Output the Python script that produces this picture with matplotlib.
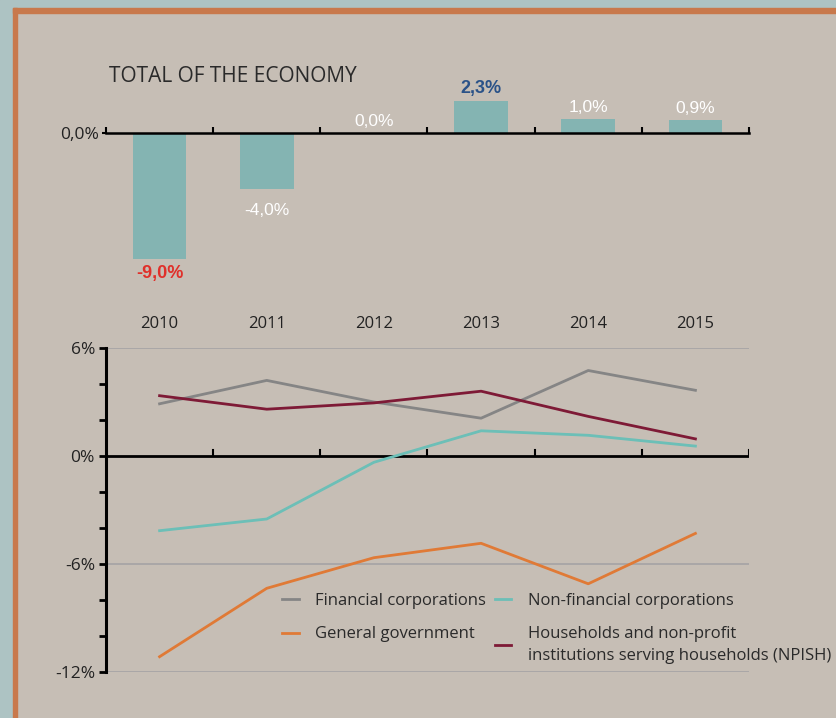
import matplotlib
matplotlib.use('Agg')
import matplotlib.pyplot as plt
from matplotlib.patches import Rectangle
import matplotlib.transforms as mtransforms

# Data
years = ['2010', '2011', '2012', '2013', '2014', '2015']
total_economy = [-9.0, -4.0, 0.0, 2.3, 1.0, 0.9]
total_labels = ['-9,0%', '-4,0%', '0,0%', '2,3%', '1,0%', '0,9%']

financial = [2.9, 4.2, 3.0, 2.1, 4.75, 3.65]
non_financial = [-4.15, -3.5, -0.35, 1.4, 1.15, 0.55]
general_gov = [-11.15, -7.35, -5.65, -4.85, -7.1, -4.3]
households = [3.35, 2.6, 2.95, 3.6, 2.2, 0.95]

series_names = ['Financial corporations', 'General government',
                'Non-financial corporations',
                'Households and non-profit\ninstitutions serving households (NPISH)']

W, H = 837, 718
BG = '#c6beb5'
OUTER = '#adc3c3'
BORDER = '#c8794c'
BAR = '#84b4b2'

plt.rcParams['font.family'] = ['Open Sans', 'DejaVu Sans']

fig = plt.figure(figsize=(W / 100, H / 100), dpi=100)
fig.patch.set_facecolor(BG)

def px(x0, y0, x1, y1):
    # pixel box (top-left origin) -> figure fraction rect
    return [x0 / W, 1 - y1 / H, (x1 - x0) / W, (y1 - y0) / H]

# outer frame
fig.patches.append(Rectangle((0, 0), 13 / W, 1, transform=fig.transFigure, color=OUTER, zorder=0))
fig.patches.append(Rectangle((0, 1 - 8 / H), 1, 8 / H, transform=fig.transFigure, color=OUTER, zorder=0))
fig.patches.append(Rectangle((13 / W, 1 - 13 / H), 1, 5 / H, transform=fig.transFigure, color=BORDER, zorder=1))
fig.patches.append(Rectangle((13 / W, 0), 4.5 / W, 1 - 8 / H, transform=fig.transFigure, color=BORDER, zorder=1))

x = list(range(len(years)))

# ---- bar chart: total of the economy ----
ax1 = fig.add_axes(px(106, 90, 749, 270))
ax1.set_facecolor('none')
ax1.bar(x, total_economy, width=0.5, color=BAR, zorder=2)
ax1.set_xlim(-0.5, 5.5)
ax1.set_ylim(-(270 - 133) / 14, (133 - 90) / 14)
for s in ['top', 'right', 'left']:
    ax1.spines[s].set_visible(False)
ax1.spines['bottom'].set_position(('data', 0))
ax1.spines['bottom'].set_linewidth(1.8)
ax1.spines['bottom'].set_zorder(3)
ax1.set_xticks([i - 0.5 for i in range(7)])
ax1.set_xticklabels([])
ax1.tick_params(axis='x', direction='in', length=4, width=1.5)
ax1.set_yticks([0])
ax1.set_yticklabels(['0,0%'], fontsize=12.5, color='#222222')
ax1.tick_params(axis='y', length=3, width=1.5, pad=2)

label_colors = ['#e0302a', 'white', 'white', '#2a5288', 'white', 'white']
label_weights = ['bold', 'normal', 'normal', 'bold', 'normal', 'normal']
for i, (v, lab) in enumerate(zip(total_economy, total_labels)):
    if v < 0:
        off = -6 if v < -5 else -14
        va = 'top'
    else:
        off = 4
        va = 'bottom'
    ax1.annotate(lab, (i, v), xytext=(0, off), textcoords='offset pixels',
                 ha='center', va=va, fontsize=12.5 if label_weights[i] == 'normal' else 13,
                 color=label_colors[i], fontweight=label_weights[i],
                 family=['Liberation Sans', 'DejaVu Sans'])

fig.text(109 / W, 1 - 77 / H, 'TOTAL OF THE ECONOMY', fontsize=15,
         color='#2a2a2a', va='center', ha='left')

# year labels
trans = mtransforms.blended_transform_factory(ax1.transData, fig.transFigure)
for i, yr in enumerate(years):
    ax1.text(i, 1 - 324 / H, yr, transform=trans, ha='center', va='center',
             fontsize=12, color='#222222')

# ---- line chart: by institutional sector ----
ax2 = fig.add_axes(px(106, 348, 749, 672))
ax2.set_facecolor('none')
ax2.set_xlim(-0.5, 5.5)
ax2.set_ylim(-12, 6)
for yv in [6, -6, -12]:
    ax2.axhline(yv, color='#a7a5a6', lw=1.3, zorder=1)
ax2.axhline(0, color='black', lw=2, zorder=2)
for i in range(1, 7):
    ax2.plot([i - 0.5, i - 0.5], [0, 0.35], color='black', lw=1.5, zorder=2)

l_fin, = ax2.plot(x, financial, color='#858585', lw=2, zorder=3)
l_nonfin, = ax2.plot(x, non_financial, color='#6cbfb7', lw=2, zorder=3)
l_gov, = ax2.plot(x, general_gov, color='#e07a36', lw=2, zorder=3)
l_hh, = ax2.plot(x, households, color='#7e1a36', lw=2, zorder=3)

for s in ['top', 'right', 'bottom']:
    ax2.spines[s].set_visible(False)
ax2.spines['left'].set_linewidth(2.2)
ax2.set_xticks([])
ax2.set_yticks(range(-12, 7, 2))
ax2.set_yticklabels(['-12%', '', '', '-6%', '', '', '0%', '', '', '6%'],
                    fontsize=12.5, color='#222222')
ax2.tick_params(axis='y', length=5, width=2, pad=3)

leg = ax2.legend([l_fin, l_gov, l_nonfin, l_hh], series_names, ncol=2,
                 loc='upper left', bbox_to_anchor=((282 - 106) / 643, (672 - 593) / 324),
                 frameon=False, fontsize=12, handlelength=1.0, handletextpad=1.0,
                 columnspacing=0.5, labelspacing=1.05, borderaxespad=0, borderpad=0)
for t in leg.get_texts():
    t.set_color('#2a2a2a')
    t.set_linespacing(1.45)

fig.savefig('out.png', dpi=100, facecolor=fig.get_facecolor())
